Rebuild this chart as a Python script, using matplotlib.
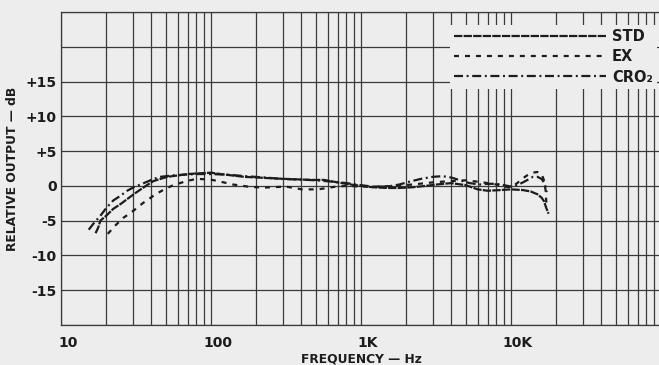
import matplotlib
matplotlib.use("Agg")
import matplotlib.pyplot as plt
from matplotlib.ticker import LogLocator, NullFormatter, FixedLocator
from matplotlib.transforms import ScaledTranslation

# frequency response curves (Hz, dB)
std_f = [17.0, 17.7, 18.3, 20, 22.3, 25, 27.6, 31, 34, 38, 41.4, 46, 51, 60, 70, 82,
         100, 116, 166, 279, 464, 567, 700, 818, 1000, 1200, 1500, 1800, 2200, 2700,
         3200, 4000, 5000, 6000, 7000, 8500, 10000, 12000, 13500, 15000, 16000, 16600,
         17200, 17800]
std_db = [-6.8, -6.0, -5.0, -4.3, -3.3, -2.6, -1.9, -1.1, -0.5, 0.2, 0.7, 1.0, 1.3, 1.5,
          1.7, 1.8, 1.9, 1.7, 1.3, 1.05, 0.86, 0.86, 0.5, 0.25, 0.0, -0.2, -0.3, -0.3,
          -0.2, 0.0, 0.2, 0.4, 0.1, -0.5, -0.7, -0.6, -0.5, -0.6, -0.8, -1.2, -1.7,
          -2.2, -3.2, -4.0]

ex_f = [20.5, 23, 26, 29, 32, 35, 38.5, 42, 47, 51, 56, 62, 69, 76, 83, 100, 116, 140,
        176, 222, 316, 404, 517, 681, 818, 1000, 1300, 1700, 2200, 3000, 4000, 5000,
        6000, 7000, 8000, 9000, 10000, 11000, 12000, 13000, 14000, 15000, 16000, 16600,
        17000, 17200]
ex_db = [-6.9, -5.7, -4.6, -3.9, -3.2, -2.5, -1.9, -1.3, -0.7, -0.3, 0.1, 0.4, 0.7, 0.9,
         1.0, 0.9, 0.6, 0.2, -0.1, -0.25, -0.1, -0.5, -0.5, -0.1, 0.0, -0.1, -0.1, 0.0,
         0.2, 0.5, 0.7, 0.8, 0.6, 0.4, 0.2, -0.1, -0.2, 0.4, 1.1, 1.6, 1.9, 2.0, 1.7,
         0.8, -0.6, -2.4]

cro_f = [15.3, 16.5, 18.3, 20, 22.3, 25, 27.6, 30.5, 33.9, 37.5, 41.4, 46, 55, 65, 80,
         100, 130, 170, 230, 300, 400, 500, 650, 800, 1000, 1200, 1500, 1800, 2100, 2500,
         3000, 3500, 4000, 4600, 5300, 6200, 7000, 8000, 9000, 10000, 11000, 12000,
         13000, 14000, 15000, 16000, 16800, 17300]
cro_db = [-6.3, -5.4, -4.3, -3.2, -2.1, -1.4, -0.7, -0.2, 0.2, 0.6, 1.0, 1.3, 1.5, 1.6,
          1.7, 1.7, 1.6, 1.4, 1.2, 1.0, 0.9, 0.8, 0.6, 0.4, 0.1, -0.1, -0.1, 0.2, 0.6,
          1.0, 1.3, 1.4, 1.2, 0.8, 0.4, 0.2, 0.3, 0.3, 0.1, -0.1, 0.1, 0.5, 0.9, 1.3,
          1.3, 1.0, 0.3, -0.9]

x_ticks = [10, 100, 1000, 10000]
x_labels = ["10", "100", "1K", "10K"]
y_ticks = [-15, -10, -5, 0, 5, 10, 15]
y_labels = ["-15", "-10", "-5", "0", "+5", "+10", "+15"]

font = ["Liberation Sans Narrow", "DejaVu Sans"]
plt.rcParams["lines.scale_dashes"] = False
ink = "#1c1c1c"
paper = "#ededed"

fig = plt.figure(figsize=(6.59, 3.65), dpi=100, facecolor=paper)
W, H = 659.0, 365.0
ax = fig.add_axes([61 / W, 40 / H, 600 / W, 313 / H], facecolor=paper)

ax.set_xscale("log")
ax.set_xlim(10, 10 ** 5)
ax.set_ylim(-20, 25)

ax.plot(std_f, std_db, color=ink, lw=1.6, dashes=(6, 0.9), label="STD", zorder=3)
ax.plot(ex_f, ex_db, color=ink, lw=1.6, dashes=(3.6, 4.3), label="EX", zorder=3)
ax.plot(cro_f, cro_db, color=ink, lw=1.6, dashes=(6.5, 2.6, 1.4, 2.6), label="CRO\u2082", zorder=3)

# grid
ax.xaxis.set_major_locator(FixedLocator(x_ticks))
ax.xaxis.set_minor_locator(LogLocator(base=10, subs=range(1, 10), numticks=20))
ax.xaxis.set_minor_formatter(NullFormatter())
ax.set_xticklabels(x_labels)
ax.set_yticks(y_ticks)
ax.set_yticklabels(y_labels)
ax.yaxis.set_minor_locator(FixedLocator([-20, 20, 25]))
ax.grid(which="both", color="#3a3a3a", lw=0.9)
ax.set_axisbelow(True)
ax.tick_params(which="both", length=0)
ax.tick_params(axis="x", pad=8)
ax.tick_params(axis="y", pad=3)
for lab in ax.get_xticklabels() + ax.get_yticklabels():
    lab.set_family(font)
    lab.set_fontweight("bold")
    lab.set_fontsize(10)
    lab.set_color(ink)
for lab in ax.get_xticklabels():
    lab.set_transform(lab.get_transform() + ScaledTranslation(5 / 72, 0, fig.dpi_scale_trans))

for side in ["left", "top", "bottom"]:
    ax.spines[side].set_color("#3a3a3a")
    ax.spines[side].set_linewidth(0.9)
ax.spines["right"].set_visible(False)

ax.set_ylabel("RELATIVE OUTPUT \u2014 dB", family=font, fontweight="bold", fontsize=8.8,
              color=ink, labelpad=5)
ax.set_xlabel("FREQUENCY \u2014 Hz", family=font, fontweight="bold", fontsize=8.8,
              color=ink, labelpad=2)

leg = ax.legend(loc="upper left", bbox_to_anchor=((450 - 61) / 600, (325 - 25) / 313),
                frameon=True, facecolor=paper, edgecolor="none", framealpha=1,
                fancybox=False, handlelength=10.4, handletextpad=0.4, borderpad=0.3,
                labelspacing=0.35, borderaxespad=0,
                prop={"family": font, "weight": "bold", "size": 10.5})
for t in leg.get_texts():
    t.set_color(ink)

fig.savefig("out.png", dpi=100, facecolor=paper)
